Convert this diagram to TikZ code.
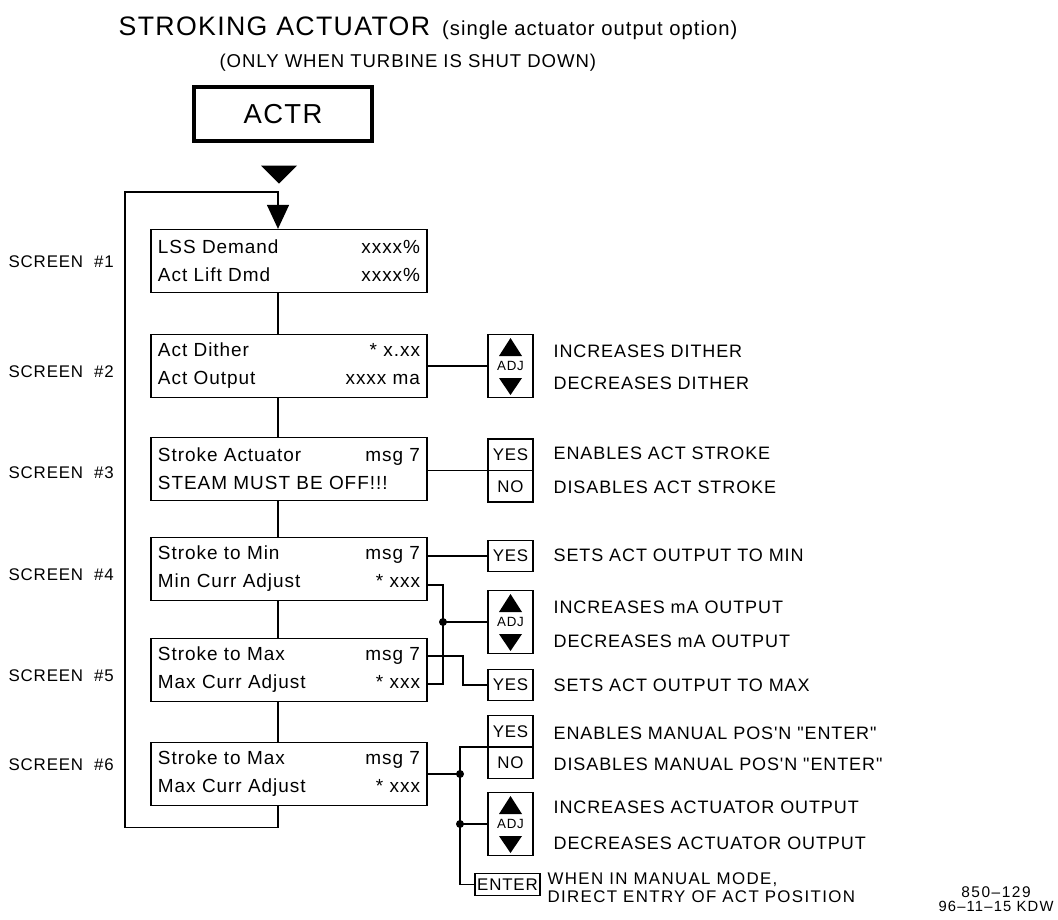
\documentclass[tikz,border=0pt]{standalone}
\usepackage{fontspec}
\setmainfont{Liberation Sans}[LetterSpace=5, Ligatures=TeXOff]
\usepackage{tikz}
\usetikzlibrary{positioning, arrows.meta, calc}

\newcommand\screenrows[4]{#1\hfill#2\\#3\hfill#4}

\tikzset{
  screenbox/.style={draw, line width=0.9pt, minimum width=6.9cm, minimum height=1.575cm,
    text width=6.55cm, inner xsep=0.175cm, align=left,
    font=\fontsize{13.5}{19.8}\selectfont},
  keybox/.style={draw, line width=0.9pt, minimum width=1.125cm, minimum height=0.7875cm,
    inner sep=0pt, outer sep=0pt, font=\fontsize{12}{12}\selectfont},
  adjbox/.style={draw, line width=0.9pt, minimum width=1.125cm, minimum height=1.575cm,
    inner sep=0pt, font=\fontsize{9.5}{9.5}\selectfont},
  note/.style={anchor=west, inner sep=0pt, font=\fontsize{12.8}{15}\selectfont},
  junction/.style={circle, fill, inner sep=0pt, minimum size=0.2cm},
}

\begin{document}
\begin{tikzpicture}[x=0.025cm, y=-0.025cm, line width=0.9pt]
  \useasboundingbox (0,0) rectangle (1058,920);

  % heading
  \node[anchor=base west, inner sep=0pt] (title) at (118,36)
    {{\fontsize{19}{19}\selectfont STROKING ACTUATOR}\hspace{0.3cm}%
     \fontsize{14.4}{15}\selectfont(single actuator output option)};
  \node[anchor=base west, inner sep=0pt] (subtitle) at (219,68)
    {\fontsize{13.2}{14}\selectfont (ONLY WHEN TURBINE IS SHUT DOWN)};

  \node[draw, line width=2.2pt, minimum width=4.45cm, minimum height=1.35cm,
        font=\fontsize{19.5}{19.5}\selectfont] (actr) at (283,114) {ACTR};
  \fill ($(actr.south)+(-22,23)$) -- ++(36,0) -- ++(-18,18) -- cycle;

  % screens
  \node[screenbox] (s1) at (289,261) {\screenrows{LSS Demand}{xxxx\%}{Act Lift Dmd}{xxxx\%}};
  \node[screenbox] (s2) at (289,366) {\screenrows{Act Dither}{* x.xx}{Act Output}{xxxx ma}};
  \node[screenbox] (s3) at (289,469) {\screenrows{Stroke Actuator}{msg 7}{STEAM MUST BE OFF!!!}{}};
  \node[screenbox] (s4) at (289,569) {\screenrows{Stroke to Min}{msg 7}{Min Curr Adjust}{* xxx}};
  \node[screenbox] (s5) at (289,670) {\screenrows{Stroke to Max}{msg 7}{Max Curr Adjust}{* xxx}};
  \node[screenbox] (s6) at (289,774) {\screenrows{Stroke to Max}{msg 7}{Max Curr Adjust}{* xxx}};

  \foreach \n/\y in {1/262, 2/372, 3/473, 4/575, 5/676, 6/765}
    \node[anchor=west, inner sep=0pt, font=\fontsize{12}{12}\selectfont] (lab\n) at (8,\y) {SCREEN\ \ \#\n};

  \coordinate (spine) at (278,0);
  \coordinate (loopcorner) at (125,192);
  \foreach \a/\b in {s1/s2, s2/s3, s3/s4, s4/s5, s5/s6}
    \draw (\a.south -| spine) -- (\b.north -| spine);
  \draw[-{Triangle[length=17pt, width=15.6pt]}] (s6.south -| spine) -- ++(0,21)
    -| (loopcorner) -| (s1.north -| spine);

  % keys
  \node[adjbox] (adj1) at (510.5,366) {ADJ};
  \node[keybox, anchor=north] (yes1) at (510.5,439) {YES};
  \node[keybox, below=0pt of yes1] (no1) {NO};
  \node[keybox] (yes2) at (510.5,556) {YES};
  \node[adjbox] (adj2) at (510.5,622) {ADJ};
  \node[keybox] (yes3) at (510.5,685) {YES};
  \node[keybox, anchor=south] (yes4) at (510.5,747) {YES};
  \node[keybox, below=0pt of yes4] (no4) {NO};
  \node[adjbox] (adj3) at (510.5,824) {ADJ};
  \node[keybox, minimum width=1.625cm, minimum height=0.55cm] (enter) at (507.5,884.5) {ENTER};

  % up / down arrows of the ADJ keys
  \foreach \k in {adj1, adj2, adj3} {
    \fill ($(\k.center)+(0,-28)$) -- ++(-11.5,18) -- ++(23,0) -- cycle;
    \fill ($(\k.center)+(0,29)$) -- ++(-11.5,-17) -- ++(23,0) -- cycle;
  }

  \draw (s2.east |- adj1.west) -- (adj1.west);
  \draw (s3.east |- yes1.south) -- (yes1.south west);
  \draw (s4.east |- yes2.west) -- (yes2.west);
  \coordinate (bus1) at (443,622);
  \draw ($(s4.east)+(0,16)$) -| (bus1) |- ($(s5.east)+(0,14)$);
  \draw (bus1) -- (adj2.west);
  \draw ($(s5.east)+(0,-14)$) -| ($(yes3.west)+(-25,0)$) -- (yes3.west);
  \coordinate (bus2) at (460,774);
  \draw (s6.east) -- (bus2);
  \draw (yes4.south west) -| (bus2 |- enter.west) -- (enter.west);
  \draw (bus2 |- adj3.west) -- (adj3.west);
  \node[junction] (j1) at (bus1) {};
  \node[junction] (j2) at (bus2) {};
  \node[junction] (j3) at (bus2 |- adj3.west) {};

  % key notes
  \node[note] (d1) at (553,351) {INCREASES DITHER};
  \node[note] (d2) at (553,383) {DECREASES DITHER};
  \node[note] (d3) at (553,453) {ENABLES ACT STROKE};
  \node[note] (d4) at (553,487) {DISABLES ACT STROKE};
  \node[note] (d5) at (553,555) {SETS ACT OUTPUT TO MIN};
  \node[note] (d6) at (553,607) {INCREASES mA OUTPUT};
  \node[note] (d7) at (553,641) {DECREASES mA OUTPUT};
  \node[note] (d8) at (553,685) {SETS ACT OUTPUT TO MAX};
  \node[note] (d9) at (553,733) {ENABLES MANUAL POS'N "ENTER"};
  \node[note] (d10) at (553,764) {DISABLES MANUAL POS'N "ENTER"};
  \node[note] (d11) at (553,807) {INCREASES ACTUATOR OUTPUT};
  \node[note] (d12) at (553,843) {DECREASES ACTUATOR OUTPUT};
  \node[note, align=left, font=\fontsize{12}{13}\selectfont\addfontfeatures{LetterSpace=8}]
    (d13) at (547,888) {WHEN IN MANUAL MODE,\\DIRECT ENTRY OF ACT POSITION};

  % drawing number
  \node[inner sep=0pt, font=\fontsize{11}{11}\selectfont\addfontfeatures{LetterSpace=10}]
    (dwgno) at (996,892) {850–129};
  \node[inner sep=0pt, font=\fontsize{10.5}{10.5}\selectfont\addfontfeatures{LetterSpace=8}]
    (dwgdate) at (996,906) {96–11–15 KDW};
\end{tikzpicture}
\end{document}
